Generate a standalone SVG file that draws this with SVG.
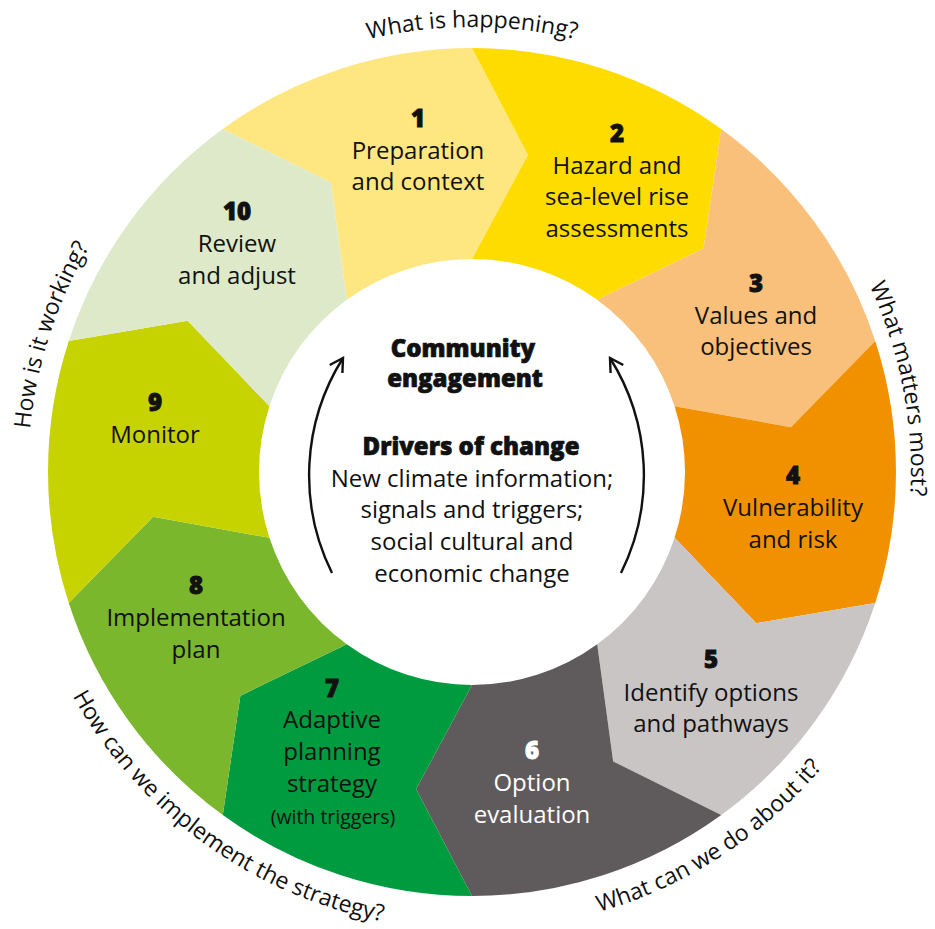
<svg xmlns="http://www.w3.org/2000/svg" width="935" height="929" viewBox="0 0 935 929">
  <defs>
    <style>
      text { font-family: "Open Sans", "Noto Sans", "Liberation Sans", sans-serif; fill: #111; text-anchor: middle; }
      .num { font-size: 24px; font-weight: 800; stroke: #111; stroke-width: 0.9; }
      .lbl { font-size: 24px; font-weight: 500; }
      .small { font-size: 19.5px; font-weight: 500; }
      .head { font-size: 24px; font-weight: 800; stroke: #111; stroke-width: 0.7; }
      .q { font-size: 23px; font-weight: 400; }
      .w { fill: #fff; stroke: #fff; }
      .lw { fill: #fff; }
      .arc { fill: none; stroke: #111; stroke-width: 2.4; }
    </style>
    <marker id="ah" viewBox="0 0 20 20" refX="16" refY="10" markerWidth="20" markerHeight="20" markerUnits="userSpaceOnUse" orient="auto">
      <path d="M 3 2.5 L 16 10 L 3 17.5" fill="none" stroke="#111" stroke-width="2.4"/>
    </marker>
    <path id="p-top" d="M 87.50 249 A 444 444 0 0 1 856.50 249"/>
    <path id="p-right" d="M 614.92 56.92 A 439 439 0 0 1 760.01 803.32"/>
    <path id="p-left" d="M 142.05 769.11 A 444 444 0 0 1 379.69 37.70"/>
    <path id="p-br" d="M 264.08 880.08 A 458 458 0 0 0 929.37 448.03"/>
    <path id="p-bl" d="M 16.51 424.13 A 458 458 0 0 0 658.29 890.41"/>
  </defs>
  <rect width="935" height="929" fill="#fff"/>

  <g id="seg1">
    <path fill="#FEE781" d="M 222.78 128.98 A 424 424 0 0 1 472 48 L 527.92 154.89 L 472 259 A 213 213 0 0 0 346.80 299.68 L 330.84 182.59 Z"/>
    <text class="num" x="418" y="127">1</text>
    <text class="lbl" x="418" y="159">Preparation</text>
    <text class="lbl" x="418" y="190">and context</text>
  </g>
  <g id="seg2">
    <path fill="#FFDC00" d="M 472 48 A 424 424 0 0 1 721.22 128.98 L 703.63 248.32 L 597.20 299.68 A 213 213 0 0 0 472 259 L 527.92 154.89 Z"/>
    <text class="num" x="617" y="142">2</text>
    <text class="lbl" x="617" y="174">Hazard and</text>
    <text class="lbl" x="617" y="205">sea-level rise</text>
    <text class="lbl" x="617" y="237">assessments</text>
  </g>
  <g id="seg3">
    <path fill="#F8C07A" d="M 721.22 128.98 A 424 424 0 0 1 875.25 340.98 L 790.87 427.19 L 674.57 406.18 A 213 213 0 0 0 597.20 299.68 L 703.63 248.32 Z"/>
    <text class="num" x="756" y="292">3</text>
    <text class="lbl" x="756" y="324">Values and</text>
    <text class="lbl" x="756" y="355">objectives</text>
  </g>
  <g id="seg4">
    <path fill="#F29100" d="M 875.25 340.98 A 424 424 0 0 1 875.25 602.98 L 756.31 623.17 L 674.57 537.82 A 213 213 0 0 0 674.57 406.18 L 790.87 427.19 Z"/>
    <text class="num" x="793" y="484">4</text>
    <text class="lbl" x="793" y="516">Vulnerability</text>
    <text class="lbl" x="793" y="548">and risk</text>
  </g>
  <g id="seg5">
    <path fill="#C9C5C5" d="M 875.25 602.98 A 424 424 0 0 1 721.22 815.02 L 613.16 761.41 L 597.20 644.32 A 213 213 0 0 0 674.57 537.82 L 756.31 623.17 Z"/>
    <text class="num" x="711" y="668">5</text>
    <text class="lbl" x="711" y="701">Identify options</text>
    <text class="lbl" x="711" y="732">and pathways</text>
  </g>
  <g id="seg6">
    <path fill="#5F5A5B" d="M 721.22 815.02 A 424 424 0 0 1 472 896 L 416.08 789.11 L 472 685 A 213 213 0 0 0 597.20 644.32 L 613.16 761.41 Z"/>
    <text class="num w" x="532" y="759">6</text>
    <text class="lbl lw" x="532" y="791">Option</text>
    <text class="lbl lw" x="532" y="823">evaluation</text>
  </g>
  <g id="seg7">
    <path fill="#009A3F" d="M 472 896 A 424 424 0 0 1 222.78 815.02 L 240.37 695.68 L 346.80 644.32 A 213 213 0 0 0 472 685 L 416.08 789.11 Z"/>
    <text class="num" x="332" y="697">7</text>
    <text class="lbl" x="332" y="728">Adaptive</text>
    <text class="lbl" x="332" y="760">planning</text>
    <text class="lbl" x="332" y="792">strategy</text>
    <text class="small" x="333" y="824">(with triggers)</text>
  </g>
  <g id="seg8">
    <path fill="#7AB72C" d="M 222.78 815.02 A 424 424 0 0 1 68.75 602.98 L 153.13 516.81 L 269.43 537.82 A 213 213 0 0 0 346.80 644.32 L 240.37 695.68 Z"/>
    <text class="num" x="196" y="594">8</text>
    <text class="lbl" x="196" y="626">Implementation</text>
    <text class="lbl" x="196" y="658">plan</text>
  </g>
  <g id="seg9">
    <path fill="#C7D300" d="M 68.75 602.98 A 424 424 0 0 1 68.75 340.98 L 187.69 320.83 L 269.43 406.18 A 213 213 0 0 0 269.43 537.82 L 153.13 516.81 Z"/>
    <text class="num" x="155" y="411">9</text>
    <text class="lbl" x="155" y="443">Monitor</text>
  </g>
  <g id="seg10">
    <path fill="#DDE9C8" d="M 68.75 340.98 A 424 424 0 0 1 222.78 128.98 L 330.84 182.59 L 346.80 299.68 A 213 213 0 0 0 269.43 406.18 L 187.69 320.83 Z"/>
    <text class="num" x="237" y="220">10</text>
    <text class="lbl" x="237" y="252">Review</text>
    <text class="lbl" x="237" y="284">and adjust</text>
  </g>

  <g id="centre">
    <text class="head" x="463" y="357">Community</text>
    <text class="head" x="465" y="387">engagement</text>
    <text class="head" x="471" y="455">Drivers of change</text>
    <text class="lbl" x="472" y="487">New climate information;</text>
    <text class="lbl" x="472" y="518">signals and triggers;</text>
    <text class="lbl" x="472" y="550">social cultural and</text>
    <text class="lbl" x="472" y="582">economic change</text>
  </g>

  <g id="connectors">
    <path class="arc" d="M 332 573 A 220 220 0 0 1 343 358" marker-end="url(#ah)"/>
    <path class="arc" d="M 621 573 A 220 220 0 0 0 610 358" marker-end="url(#ah)"/>
  </g>

  <g id="questions">
    <text class="q"><textPath href="#p-top" startOffset="50%">What is happening?</textPath></text>
    <text class="q"><textPath href="#p-right" startOffset="50%">What matters most?</textPath></text>
    <text class="q"><textPath href="#p-br" startOffset="50%">What can we do about it?</textPath></text>
    <text class="q"><textPath href="#p-bl" startOffset="50%">How can we implement the strategy?</textPath></text>
    <text class="q"><textPath href="#p-left" startOffset="50%">How is it working?</textPath></text>
  </g>
</svg>
